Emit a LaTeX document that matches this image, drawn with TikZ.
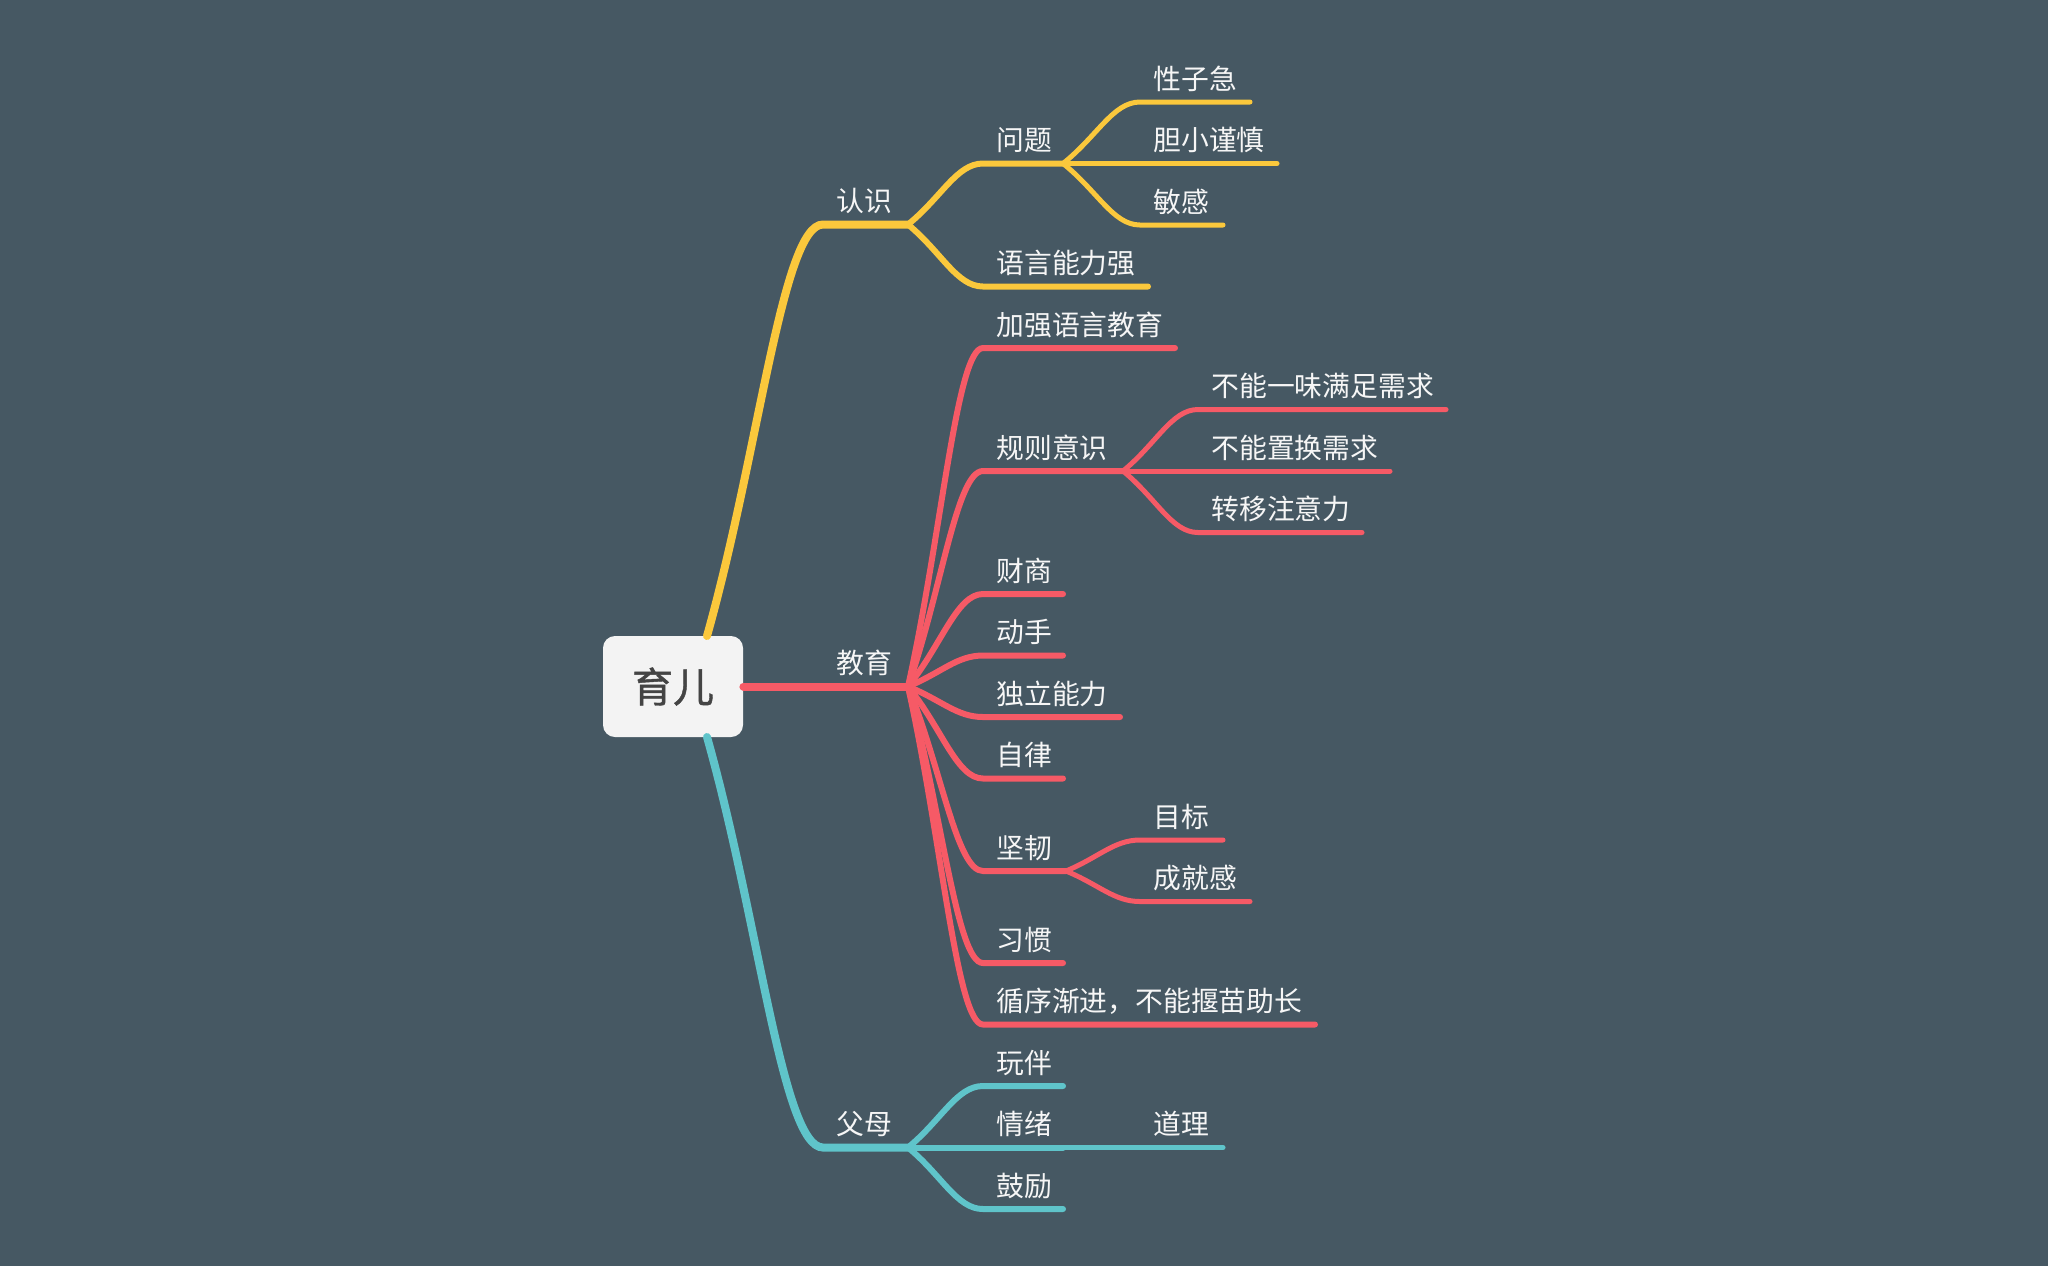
\documentclass[tikz,border=0pt]{standalone}
\usepackage{fontspec}
\setmainfont{Noto Sans CJK SC}
\newfontfamily\rootfont[FakeBold=1]{Noto Sans CJK SC}
\usetikzlibrary{calc}
\definecolor{bg}{RGB}{70,88,99}
\definecolor{ylw}{RGB}{251,200,60}
\definecolor{rd}{RGB}{246,90,102}
\definecolor{tl}{RGB}{95,196,202}
\definecolor{txt}{RGB}{246,246,246}
\definecolor{roottxt}{RGB}{68,68,68}
\definecolor{rootfill}{RGB}{243,243,243}

\begin{document}
\begin{tikzpicture}[x=0.5pt, y=-0.5pt,
    twig/.style={to path={.. controls ($(\tikztostart)!0.45!(\tikztotarget)$) and ($(\tikztotarget)!0.35!(\tikztostart|-\tikztotarget)$) .. (\tikztotarget)}},
    lv1/.style={line width=4pt, line cap=round},
    lv2/.style={line width=3pt, line cap=round},
    lv3/.style={line width=2.5pt, line cap=round},
    lbl/.style={anchor=base west, inner sep=0pt, text=txt, xshift=6.5pt, yshift=6.5pt,
        font=\fontsize{13.9pt}{16pt}\selectfont}]
    \fill[bg] (0,0) rectangle (2048,1266);
    \useasboundingbox (0,0) rectangle (2048,1266);
    %
    \node(root)[fill=rootfill, rounded corners=6pt, minimum width=70pt, minimum height=50.5pt,
        text=roottxt, font=\rootfont\fontsize{20.5pt}{24pt}\selectfont] at (673,686.5){育儿};
    %
    \coordinate (ys) at (707,636);
    \coordinate (ts) at (707,737);
    \coordinate (rs1) at (823,224.5);  \coordinate (rs2) at (908,224.5);
    \coordinate (wt1) at (983,163.5);  \coordinate (wt2) at (1063,163.5);
    \coordinate (xz1) at (1140,102);   \coordinate (xz2) at (1250,102);
    \coordinate (dx1) at (1140,163.5); \coordinate (dx2) at (1277,163.5);
    \coordinate (mg1) at (1140,225);   \coordinate (mg2) at (1223,225);
    \coordinate (yy1) at (983,286.5);  \coordinate (yy2) at (1148,286.5);
    %
    \coordinate (jy1) at (823,686.5);  \coordinate (jy2) at (908,686.5);
    \coordinate (jq1) at (983,348);    \coordinate (jq2) at (1175,348);
    \coordinate (gz1) at (983,471);    \coordinate (gz2) at (1123,471);
    \coordinate (bn1) at (1198,409.5); \coordinate (bn2) at (1446,409.5);
    \coordinate (zh1) at (1198,471);   \coordinate (zh2) at (1390,471);
    \coordinate (zy1) at (1198,532.5); \coordinate (zy2) at (1362,532.5);
    \coordinate (cs1) at (983,594);    \coordinate (cs2) at (1063,594);
    \coordinate (ds1) at (983,655.5);  \coordinate (ds2) at (1063,655.5);
    \coordinate (dl1) at (983,717);    \coordinate (dl2) at (1120,717);
    \coordinate (zl1) at (983,778.5);  \coordinate (zl2) at (1063,778.5);
    \coordinate (jr1) at (983,871);    \coordinate (jr2) at (1066,871);
    \coordinate (mb1) at (1140,840);   \coordinate (mb2) at (1223,840);
    \coordinate (cj1) at (1140,901.5); \coordinate (cj2) at (1250,901.5);
    \coordinate (xg1) at (983,963);    \coordinate (xg2) at (1063,963);
    \coordinate (xx1) at (983,1024.5); \coordinate (xx2) at (1315,1024.5);
    %
    \coordinate (fm1) at (823,1147.5); \coordinate (fm2) at (908,1147.5);
    \coordinate (wb1) at (983,1086);   \coordinate (wb2) at (1063,1086);
    \coordinate (qx1) at (983,1147.5); \coordinate (qx2) at (1063,1147.5);
    \coordinate (dli1) at (1140,1147.5); \coordinate (dli2) at (1223,1147.5);
    \coordinate (gl1) at (983,1209);   \coordinate (gl2) at (1063,1209);
    %
    \draw [ylw, lv1](ys) to[twig] (rs1) -- (rs2);
    \draw [ylw, lv2](rs2) to[twig] (wt1) -- (wt2);
    \draw [ylw, lv2](rs2) to[twig] (yy1) -- (yy2);
    \draw [ylw, lv3](wt2) to[twig] (xz1) -- (xz2);
    \draw [ylw, lv3](wt2) -- (dx1) -- (dx2);
    \draw [ylw, lv3](wt2) to[twig] (mg1) -- (mg2);
    %
    \draw [rd, lv1](root.east) -- (jy1) -- (jy2);
    \foreach \b in {jq,gz,cs,ds,dl,zl,jr,xg,xx}
        \draw [rd, lv2](jy2) to[twig] (\b1) -- (\b2);
    \draw [rd, lv3](gz2) to[twig] (bn1) -- (bn2);
    \draw [rd, lv3](gz2) -- (zh1) -- (zh2);
    \draw [rd, lv3](gz2) to[twig] (zy1) -- (zy2);
    \draw [rd, lv3](jr2) to[twig] (mb1) -- (mb2);
    \draw [rd, lv3](jr2) to[twig] (cj1) -- (cj2);
    %
    \draw [tl, lv1](ts) to[twig] (fm1) -- (fm2);
    \draw [tl, lv2](fm2) to[twig] (wb1) -- (wb2);
    \draw [tl, lv2](fm2) -- (qx1) -- (qx2);
    \draw [tl, lv2](fm2) to[twig] (gl1) -- (gl2);
    \draw [tl, lv3](qx2) -- (dli1) -- (dli2);
    %
    \node(renshi)[lbl] at (rs1){认识};
    \node(wenti)[lbl] at (wt1){问题};
    \node(xingzi)[lbl] at (xz1){性子急};
    \node(danxiao)[lbl] at (dx1){胆小谨慎};
    \node(mingan)[lbl] at (mg1){敏感};
    \node(yuyan)[lbl] at (yy1){语言能力强};
    \node(jiaoyu)[lbl] at (jy1){教育};
    \node(jiaqiang)[lbl] at (jq1){加强语言教育};
    \node(guize)[lbl] at (gz1){规则意识};
    \node(buneng)[lbl] at (bn1){不能一味满足需求};
    \node(zhihuan)[lbl] at (zh1){不能置换需求};
    \node(zhuanyi)[lbl] at (zy1){转移注意力};
    \node(caishang)[lbl] at (cs1){财商};
    \node(dongshou)[lbl] at (ds1){动手};
    \node(duli)[lbl] at (dl1){独立能力};
    \node(zilv)[lbl] at (zl1){自律};
    \node(jianren)[lbl] at (jr1){坚韧};
    \node(mubiao)[lbl] at (mb1){目标};
    \node(chengjiu)[lbl] at (cj1){成就感};
    \node(xiguan)[lbl] at (xg1){习惯};
    \node(xunxu)[lbl] at (xx1){循序渐进，不能揠苗助长};
    \node(fumu)[lbl] at (fm1){父母};
    \node(wanban)[lbl] at (wb1){玩伴};
    \node(qingxu)[lbl] at (qx1){情绪};
    \node(daoli)[lbl] at (dli1){道理};
    \node(guli)[lbl] at (gl1){鼓励};
\end{tikzpicture}
\end{document}
